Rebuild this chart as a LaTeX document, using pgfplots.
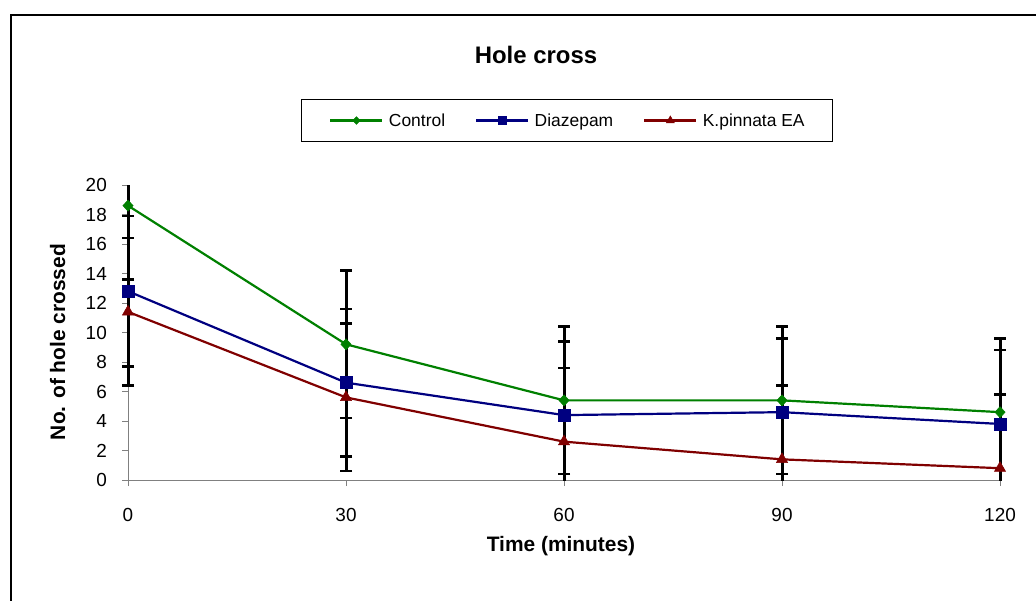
\documentclass[border=0pt]{standalone}
\usepackage{fontspec}
\setmainfont{Liberation Sans}
\usepackage{pgfplots}
\pgfplotsset{compat=1.18}
\definecolor{cgreen}{RGB}{0,128,0}
\definecolor{cnavy}{RGB}{0,0,128}
\definecolor{cred}{RGB}{128,0,0}
\pgfplotsset{
  ebars/.style={error bars/.cd, y dir=both, y explicit,
    error bar style={line width=3bp, black, solid},
    error mark options={rotate=90, mark size=6bp, line width=2.5bp, black}}
}
\begin{document}
\begin{tikzpicture}[x=1bp,y=1bp]
\useasboundingbox (0,0) rectangle (1036,-601);
\draw[line width=2bp] (11,-700) -- (11,-15) -- (1100,-15);
\node[font=\bfseries\fontsize{24}{24}\selectfont, anchor=base] at (536,-64) {Hole cross};
\node[font=\bfseries\fontsize{21}{21}\selectfont, anchor=base] at (561,-551) {Time (minutes)};
\node[font=\bfseries\fontsize{21}{21}\selectfont, anchor=base, rotate=90] at (65,-342) {No. of hole crossed};
\begin{axis}[
  scale only axis, width=872bp, height=295bp,
  at={(128bp,-480bp)}, anchor=south west,
  xmin=0, xmax=120, ymin=0, ymax=20,
  axis x line*=bottom, axis y line*=left,
  axis line style={draw=gray, line width=1bp},
  xtick={0,30,60,90,120}, ytick={0,2,...,20},
  tick style={draw=gray, line width=1bp},
  tick align=outside, major tick length=6bp,
  /pgf/number format/assume math mode=true,
  ticklabel style={font=\fontsize{19}{19}\selectfont},
  yticklabel style={inner sep=0pt, anchor=east},
  xticklabel style={inner sep=0pt, anchor=north},
  yticklabel shift=15bp,
  xticklabel shift=22bp,
  clip=false,
  legend columns=3,
  legend cell align=left,
  legend image code/.code={\draw[mark repeat=2,mark phase=2,#1,every mark/.append style={scale=0.7}] plot coordinates {(0bp,0bp) (26bp,0bp) (52bp,0bp)};},
  legend style={at={(rel axis cs:0.5034,1.2186)}, anchor=center, draw=black, line width=1bp,
    font=\fontsize{17.5}{17.5}\selectfont,
    inner xsep=28bp, inner ysep=14bp,
    nodes={inner sep=0pt},
    column sep=5.4bp,
    /tikz/every even column/.append style={column sep=30bp}},
]
\begin{scope}
\clip (rel axis cs:-0.05,0) rectangle (rel axis cs:1.05,1);
\addplot[cgreen, line width=2.2bp, mark=diamond*, mark size=5.5bp,
  mark options={solid, fill=cgreen, draw=cgreen, line width=0.5bp, xscale=1.25}, ebars]
  coordinates {(0,18.6) +- (0,5.0) (30,9.2) +- (0,5.0) (60,5.4) +- (0,5.0) (90,5.4) +- (0,5.0) (120,4.6) +- (0,5.0)};
\addlegendentry{Control}
\addplot[cnavy, line width=2.2bp, mark=square*, mark size=6bp,
  mark options={solid, fill=cnavy, draw=cnavy, line width=0.5bp}, ebars]
  coordinates {(0,12.8) +- (0,5.1) (30,6.6) +- (0,5.0) (60,4.4) +- (0,5.0) (90,4.6) +- (0,5.0) (120,3.8) +- (0,5.0)};
\addlegendentry{Diazepam}
\addplot[cred, line width=2.2bp, mark=triangle*, mark size=6.5bp,
  mark options={solid, fill=cred, draw=cred, line width=0.5bp}, ebars]
  coordinates {(0,11.4) +- (0,5.0) (30,5.6) +- (0,5.0) (60,2.6) +- (0,5.0) (90,1.4) +- (0,5.0) (120,0.8) +- (0,5.0)};
\addlegendentry{K.pinnata EA}
\end{scope}
\end{axis}
\end{tikzpicture}
\end{document}
